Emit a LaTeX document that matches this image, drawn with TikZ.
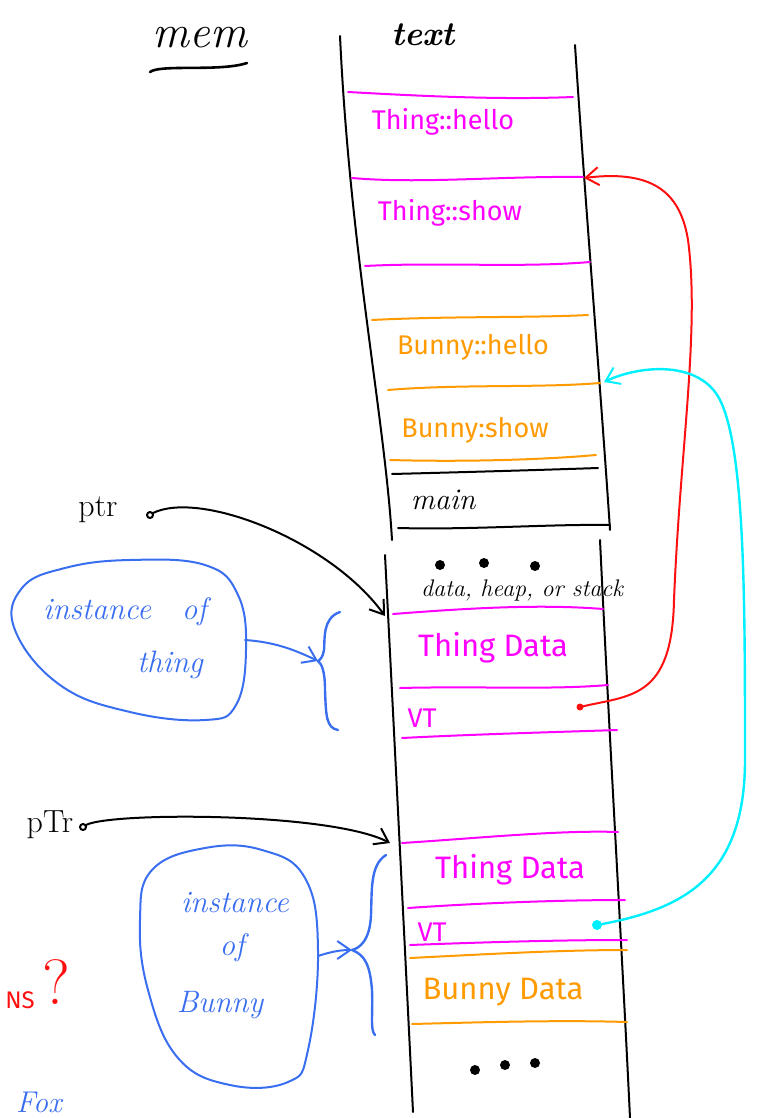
\documentclass[tikz,border=0pt]{standalone}
\usepackage{fontspec}
\newfontfamily\hand{Fira Sans}
\usetikzlibrary{arrows.meta}
\definecolor{mag}{HTML}{FF00FF}
\definecolor{org}{HTML}{FF9A00}
\definecolor{cyn}{HTML}{00F0FF}
\definecolor{blu}{HTML}{3A6EF0}
\definecolor{rd}{HTML}{FF1010}
\begin{document}
\begin{tikzpicture}[x=1pt,y=-1pt,line cap=round,line join=round,
  ink/.style={line width=2pt},
  lbl/.style={font=\hand\fontsize{27}{29}\selectfont, inner sep=0pt},
  big/.style={font=\hand\fontsize{31}{33}\selectfont, inner sep=0pt},
  slbl/.style={font=\itshape\fontsize{24}{26}\selectfont, inner sep=0pt},
  blab/.style={font=\itshape\fontsize{31}{33}\selectfont, inner sep=0pt, blu},
  tip/.style={-{Straight Barb[length=13pt,width=18pt,line width=2pt]}}]
\useasboundingbox (0,0) rectangle (764,1118);

% ---- titles
\node[font=\itshape\fontsize{46}{48}\selectfont, inner sep=0pt] (mem) at (200,38) {mem};
\draw[ink,line width=2.6pt] (150,72) .. controls (160,64) and (220,72) .. (247,63);
\node[font=\itshape\bfseries\fontsize{34}{36}\selectfont, inner sep=0pt] (txt) at (423,35) {text};

% ---- text segment walls
\draw[ink] (340,36) .. controls (350,250) and (385,420) .. (392,540);
\draw[ink] (575,45) .. controls (585,200) and (600,380) .. (610,530);

% text segment dividers
\draw[ink,mag] (348,92) .. controls (420,96) and (500,100) .. (573,97);
\draw[ink,mag] (352,178) .. controls (420,184) and (500,176) .. (583,177);
\draw[ink,mag] (365,266) .. controls (440,262) and (520,268) .. (590,262);
\draw[ink,org] (372,320) .. controls (450,316) and (530,318) .. (588,315);
\draw[ink,org] (388,390) .. controls (460,384) and (540,388) .. (600,383);
\draw[ink,org] (390,460) .. controls (460,462) and (540,460) .. (596,455);
\draw[ink] (392,474) .. controls (470,472) and (540,470) .. (598,468);
\draw[ink] (398,528) .. controls (470,530) and (550,524) .. (610,525);

\node[lbl,mag] (thello) at (443,122) {Thing::hello};
\node[lbl,mag] (tshow) at (450,213) {Thing::show};
\node[lbl,org] (bhello) at (473,347) {Bunny::hello};
\node[lbl,org] (bshow) at (475,430) {Bunny:show};
\node[font=\itshape\fontsize{30}{32}\selectfont, inner sep=0pt] (mainf) at (443,500) {main};

% ---- gap dots
\foreach \x/\y in {440/565,484/563,535/566} \fill (\x,\y) circle (5);

% ---- data segment walls
\draw[ink] (385,555) .. controls (395,750) and (405,950) .. (413,1112);
\draw[ink] (600,540) .. controls (610,750) and (622,950) .. (630,1118);
\node[slbl] (dhs) at (522,590) {data, heap, or stack};

% Thing instance
\draw[ink,mag] (393,614) .. controls (470,608) and (540,604) .. (603,609);
\node[big,mag] (td1) at (493,648) {Thing Data};
\draw[ink,mag] (400,688) .. controls (480,686) and (550,690) .. (608,685);
\node[lbl,mag] (vt1) at (422,718) {VT};
\draw[ink,mag] (402,738) .. controls (480,734) and (560,732) .. (617,730);

% Bunny instance
\draw[ink,mag] (402,843) .. controls (480,838) and (560,830) .. (618,832);
\node[big,mag] (td2) at (510,870) {Thing Data};
\draw[ink,mag] (408,908) .. controls (480,903) and (560,900) .. (625,900);
\node[lbl,mag] (vt2) at (432,932) {VT};
\draw[ink,mag] (410,945) .. controls (490,942) and (560,940) .. (627,940);
\draw[ink,org] (410,958) .. controls (490,954) and (560,950) .. (627,950);
\node[big,org] (bd) at (503,992) {Bunny Data};
\draw[ink,org] (412,1024) .. controls (490,1022) and (560,1020) .. (627,1022);

\foreach \x/\y in {475/1070,505/1065,535/1063} \fill (\x,\y) circle (5);

% ---- pointers
\node[font=\fontsize{32}{34}\selectfont, inner sep=0pt] (ptr1) at (98,510) {ptr};
\coordinate (p1) at (150,515);
\coordinate (p1end) at (385,616);
\draw[ink] (p1) circle (3);
\draw[ink,tip] (153,513) .. controls (200,490) and (330,540) .. (p1end);

\node[font=\fontsize{32}{34}\selectfont, inner sep=0pt] (ptr2) at (50,825) {pTr};
\coordinate (p2) at (83,827);
\coordinate (p2end) at (390,843);
\draw[ink] (p2) circle (3);
\draw[ink,tip] (86,825) .. controls (110,812) and (330,812) .. (p2end);

% vtable links
\coordinate (vtdot1) at (580,707);
\coordinate (tshowin) at (584,178);
\fill[rd] (vtdot1) circle (3.5);
\draw[ink,rd,tip] (vtdot1) .. controls (630,695) and (672,700) .. (674,600)
  .. controls (680,450) and (700,330) .. (688,240)
  .. controls (680,190) and (650,170) .. (tshowin);

\coordinate (vtdot2) at (597,925);
\coordinate (bhelloin) at (604,382);
\fill[cyn] (vtdot2) circle (5);
\draw[ink,cyn,line width=2.4pt,tip] (vtdot2) .. controls (680,910) and (745,880) .. (745,760)
  .. controls (745,600) and (745,450) .. (720,400)
  .. controls (700,360) and (640,365) .. (bhelloin);

% ---- instance blobs
\draw[ink,blu] plot[smooth cycle,tension=0.7] coordinates {(22,588) (65,568) (130,560) (205,565) (238,595) (246,650) (236,705) (205,720) (130,712) (60,685) (15,630)};
\node[blab] (inst1) at (125,612) {instance\quad of};
\node[blab] (thing) at (170,665) {thing};

\draw[ink,blu] plot[smooth cycle,tension=0.7] coordinates {(152,870) (205,848) (262,850) (305,878) (318,950) (308,1050) (288,1082) (230,1085) (178,1058) (148,990) (140,920)};
\node[blab] (inst2) at (235,903) {instance};
\node[blab] (of2) at (232,948) {of};
\node[blab] (bun) at (220,1005) {Bunny};

% braces and links
\coordinate (br1) at (318,661);
\coordinate (br2) at (352,950);
\draw[ink,blu,line width=2.4pt] (340,612) .. controls (322,618) and (325,640) .. (324,650)
  .. controls (323,657) and (320,660) .. (br1)
  .. controls (322,664) and (325,672) .. (325,690)
  .. controls (326,715) and (326,728) .. (338,730);
\draw[ink,blu,line width=2.4pt] (386,855) .. controls (370,865) and (372,890) .. (371,915)
  .. controls (370,940) and (360,948) .. (br2)
  .. controls (365,955) and (370,965) .. (372,990)
  .. controls (373,1015) and (370,1030) .. (375,1035);
\draw[ink,blu,tip] (245,640) .. controls (275,642) and (295,650) .. (br1);
\draw[ink,blu,tip] (318,956) .. controls (330,952) and (340,950) .. (br2);

% ---- margin notes
\node[font=\hand\fontsize{24}{26}\selectfont, inner sep=0pt, rd] (ns) at (20,1000) {NS};
\node[font=\fontsize{64}{66}\selectfont, inner sep=0pt, rd] (q) at (56,982) {?};
\node[font=\itshape\fontsize{30}{32}\selectfont, inner sep=0pt, blu, anchor=north west] (fox) at (16,1092) {Fox};
\end{tikzpicture}
\end{document}
